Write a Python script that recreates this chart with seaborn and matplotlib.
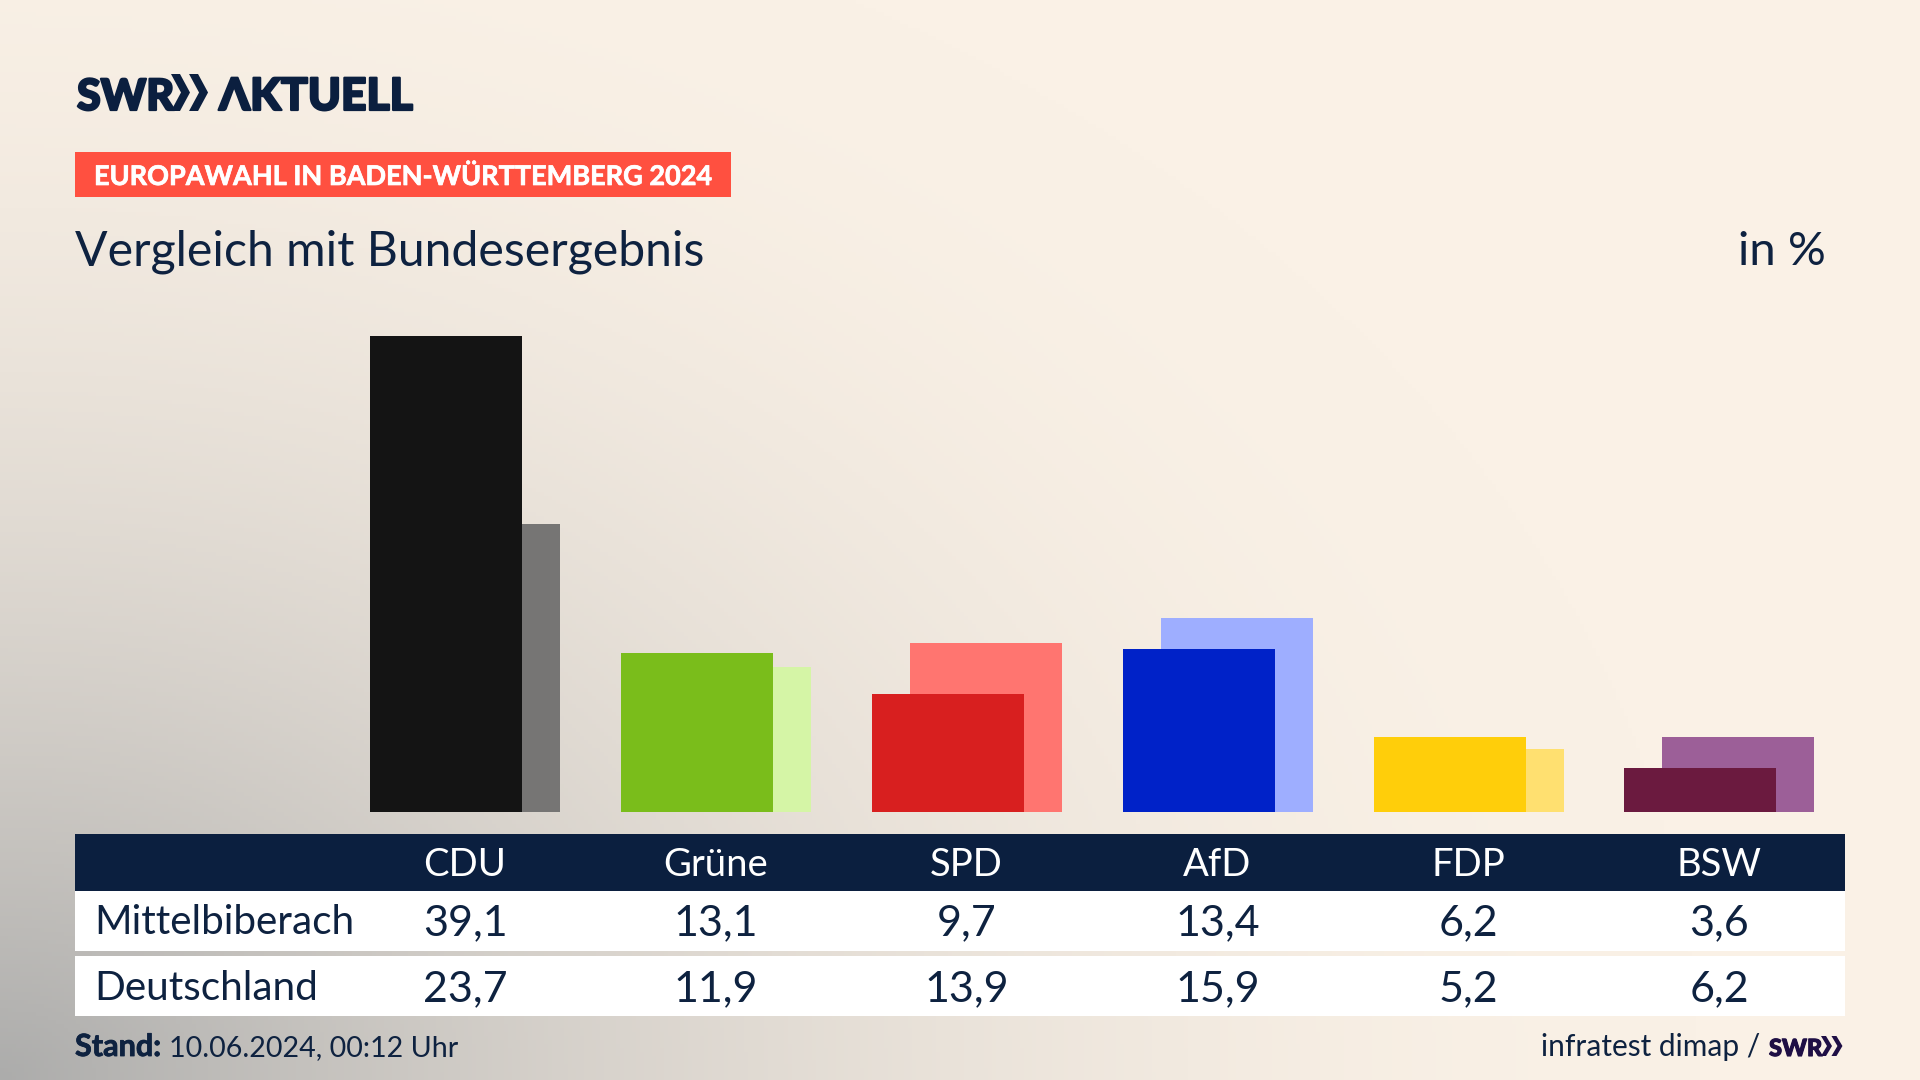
import numpy as np
import pandas as pd
import matplotlib
matplotlib.use("Agg")
import matplotlib.pyplot as plt
import matplotlib.patheffects as pe
from matplotlib.patches import Rectangle, Polygon
import seaborn as sns

NAVY = "#0b1f3f"
TEXT = "#0e2240"
FONT = ["Lato", "DejaVu Sans"]

parteien = ["CDU", "Grüne", "SPD", "AfD", "FDP", "BSW"]
mittelbiberach = [39.1, 13.1, 9.7, 13.4, 6.2, 3.6]
deutschland = [23.7, 11.9, 13.9, 15.9, 5.2, 6.2]

farben_vorne = dict(zip(parteien, ["#141414", "#7abd1b", "#d81f1f", "#0022c8", "#ffce0a", "#6b1a3f"]))
farben_hinten = dict(zip(parteien, ["#767574", "#d5f5a6", "#ff7570", "#9eaeff", "#ffe070", "#9c5f98"]))

df = pd.DataFrame({"partei": parteien, "pos": range(6),
                   "mittelbiberach": mittelbiberach, "deutschland": deutschland})
VERSATZ = 19 / 250.8

sns.set_theme(style="white")
plt.rcParams["font.family"] = FONT

fig = plt.figure(figsize=(19.2, 10.8), dpi=100)

# overlay in pixel coords for background, table and texts
bg = fig.add_axes([0, 0, 1, 1])
bg.set_xlim(0, 1920)
bg.set_ylim(1080, 0)
bg.axis("off")

yy, xx = np.mgrid[0:1080:270j, 0:1920:480j]
r = np.sqrt((xx / 1700) ** 2 + ((1080 - yy) / 1250) ** 2)
t = np.clip(1 - r, 0, 1) ** 1.9
creme = np.array([250, 241, 230]) / 255
grau = np.array([172, 172, 171]) / 255
verlauf = creme + (grau - creme) * t[..., None]
bg.imshow(verlauf, extent=(0, 1920, 1080, 0), aspect="auto", zorder=0)
bg.set_xlim(0, 1920)
bg.set_ylim(1080, 0)

# bars
ax = fig.add_axes([75 / 1920, (1080 - 812) / 1080, 1770 / 1920, 522 / 1080])
ax.patch.set_alpha(0)
sns.barplot(data=df.assign(x=df["pos"] + VERSATZ), x="x", y="deutschland", hue="partei",
            palette=farben_hinten, native_scale=True, dodge=False, width=152 / 250.8,
            legend=False, saturation=1, linewidth=0, ax=ax)
sns.barplot(data=df.assign(x=df["pos"] - VERSATZ), x="x", y="mittelbiberach", hue="partei",
            palette=farben_vorne, native_scale=True, dodge=False, width=152 / 250.8,
            legend=False, saturation=1, linewidth=0, ax=ax)
ax.set_xlim((75 - 465.3) / 250.8, (1845 - 465.3) / 250.8)
ax.set_ylim(0, 522 / 12.17)
ax.axis("off")


def txt(x, y, s, size, color=TEXT, weight="normal", ha="left", stroke=0):
    t = bg.text(x, y, s, fontsize=size, color=color, fontweight=weight, ha=ha, va="baseline", zorder=5)
    if stroke:
        # the broadcaster's font is heavier than anything installed
        t.set_path_effects([pe.withStroke(linewidth=stroke, foreground=color)])
    return t


def chevrons(x, top, bottom, w, t, color):
    mid = (top + bottom) / 2
    for dx in (0, w * 0.95):
        pts = [(x + dx, top), (x + dx + t, top), (x + dx + w, mid), (x + dx + t, bottom), (x + dx, bottom), (x + dx + w - t, mid)]
        bg.add_patch(Polygon(pts, closed=True, facecolor=color, edgecolor="none", zorder=5))


# logo
txt(77, 110, "SWR", 31, NAVY, "black", stroke=1.6)
chevrons(171, 74, 111, 19, 9, NAVY)
txt(219, 110, "ΛKTUELL", 32, NAVY, "black", stroke=1.6)

# red label
bg.add_patch(Rectangle((75, 152), 656, 45, facecolor="#ff5040", edgecolor="none", zorder=4))
txt(94, 185, "EUROPAWAHL IN BADEN-WÜRTTEMBERG 2024", 19.5, "white", "bold", stroke=0.5)

txt(75, 265, "Vergleich mit Bundesergebnis", 34.7)
txt(1826, 265, "in %", 34, ha="right")

# table
bg.add_patch(Rectangle((75, 834), 1770, 57, facecolor=NAVY, edgecolor="none", zorder=4))
bg.add_patch(Rectangle((75, 891), 1770, 60, facecolor="white", edgecolor="none", zorder=4))
bg.add_patch(Rectangle((75, 956), 1770, 60, facecolor="white", edgecolor="none", zorder=4))
txt(94, 934, "Mittelbiberach", 29.2)
txt(94, 1000, "Deutschland", 29.2)
for i, partei in enumerate(parteien):
    mitte = 465 + i * 250.8
    txt(mitte, 876, partei, 27.5, "white", ha="center")
    txt(mitte, 935, f"{mittelbiberach[i]:.1f}".replace(".", ","), 31, ha="center")
    txt(mitte, 1001, f"{deutschland[i]:.1f}".replace(".", ","), 31, ha="center")

# footer
txt(75, 1056, "Stand:", 22, weight="bold", stroke=0.6)
txt(169, 1056, "10.06.2024, 00:12 Uhr", 20.6)
txt(1760, 1056, "infratest dimap /", 21.5, ha="right")
txt(1769, 1056, "SWR", 17, "#1f0f45", "black", stroke=0.8)
chevrons(1821, 1036, 1056, 11, 5, "#1f0f45")

fig.savefig("out.png", dpi=100)
